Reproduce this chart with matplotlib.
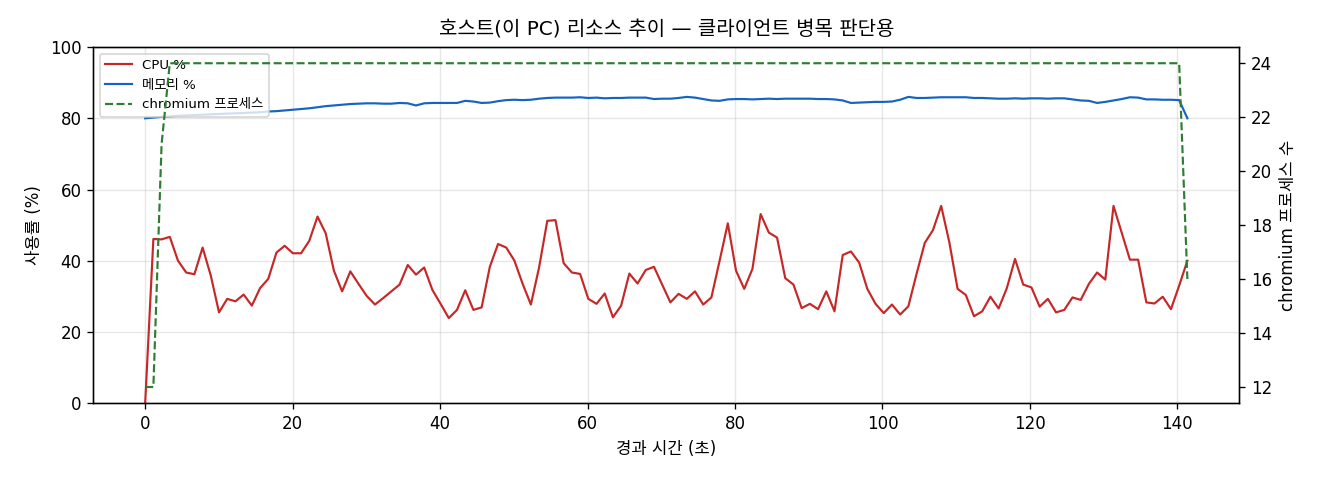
import numpy as np
import matplotlib
matplotlib.use('Agg')
import matplotlib.pyplot as plt

# Latin glyphs from DejaVu, Hangul falls through to Noto CJK KR
plt.rcParams['font.family'] = ['DejaVu Sans', 'Noto Sans CJK KR']
plt.rcParams['axes.unicode_minus'] = False

# sampling interval of the host monitor (s)
SAMPLE_SEC = 1.113

cpu = [0.0, 46.1, 46.0, 46.7, 40.0, 36.7, 36.2, 43.7, 35.8, 25.5,
       29.3, 28.6, 30.5, 27.4, 32.3, 34.9, 42.3, 44.2, 42.1, 42.1,
       45.6, 52.4, 47.7, 37.2, 31.4, 37.0, 33.5, 30.1, 27.7, 29.5,
       31.4, 33.3, 38.8, 36.1, 38.1, 31.8, 27.9, 23.9, 26.2, 31.7,
       26.2, 26.9, 38.3, 44.7, 43.7, 40.0, 33.5, 27.7, 38.1, 51.2,
       51.4, 39.3, 36.7, 36.3, 29.3, 27.9, 30.8, 24.1, 27.4, 36.4,
       33.6, 37.4, 38.3, 33.3, 28.3, 30.7, 29.3, 31.4, 27.7, 29.7,
       40.0, 50.5, 37.2, 32.1, 37.7, 53.1, 47.9, 46.5, 35.1, 33.3,
       26.7, 27.9, 26.4, 31.4, 25.8, 41.6, 42.6, 39.5, 32.1, 27.9,
       25.3, 27.7, 24.9, 27.2, 36.3, 45.0, 48.6, 55.4, 45.1, 32.1,
       30.4, 24.4, 25.8, 29.9, 26.6, 32.3, 40.5, 33.3, 32.5, 27.1,
       29.3, 25.5, 26.2, 29.7, 29.0, 33.5, 36.7, 34.7, 55.4, 47.9,
       40.3, 40.3, 28.3, 28.0, 29.9, 26.4, 33.0, 40.0]

mem = [80.0, 80.2, 80.4, 80.5, 80.7, 80.8, 80.9, 81.0, 81.1, 81.2,
       81.3, 81.4, 81.5, 81.6, 81.7, 81.9, 82.0, 82.2, 82.4, 82.6,
       82.8, 83.1, 83.4, 83.6, 83.8, 84.0, 84.1, 84.2, 84.2, 84.1,
       84.1, 84.3, 84.2, 83.6, 84.2, 84.3, 84.3, 84.3, 84.3, 84.9,
       84.7, 84.3, 84.4, 84.8, 85.1, 85.2, 85.1, 85.2, 85.5, 85.7,
       85.8, 85.8, 85.8, 85.9, 85.7, 85.8, 85.6, 85.7, 85.7, 85.8,
       85.8, 85.8, 85.4, 85.5, 85.5, 85.7, 86.0, 85.8, 85.4, 85.0,
       84.9, 85.3, 85.4, 85.4, 85.3, 85.4, 85.5, 85.4, 85.5, 85.5,
       85.5, 85.5, 85.4, 85.4, 85.3, 85.0, 84.3, 84.4, 84.5, 84.6,
       84.6, 84.7, 85.2, 86.0, 85.7, 85.7, 85.8, 85.9, 85.9, 85.9,
       85.9, 85.7, 85.7, 85.6, 85.5, 85.5, 85.6, 85.5, 85.6, 85.6,
       85.5, 85.6, 85.6, 85.3, 85.0, 84.9, 84.3, 84.6, 85.0, 85.4,
       85.9, 85.8, 85.3, 85.3, 85.2, 85.2, 85.1, 80.0]

chromium = [12, 12, 21] + [24] * 124 + [16]

t = np.arange(len(cpu)) * SAMPLE_SEC

fig, ax1 = plt.subplots(figsize=(11, 4), dpi=120)
fig.subplots_adjust(left=0.0705, right=0.939, top=0.902, bottom=0.16)

l1, = ax1.plot(t, cpu, color='#c62828', lw=1.3, label='CPU %')
l2, = ax1.plot(t, mem, color='#1565c0', lw=1.3, label='메모리 %')
ax1.set_ylim(0, 100)
ax1.set_xlabel('경과 시간 (초)')
ax1.set_ylabel('사용률 (%)')
ax1.grid(alpha=0.3)

ax2 = ax1.twinx()
l3, = ax2.plot(t, chromium, color='#2e7d32', lw=1.3, ls='--', label='chromium 프로세스')
ax2.set_ylabel('chromium 프로세스 수')

lines = [l1, l2, l3]
ax1.legend(lines, [l.get_label() for l in lines], loc='upper left', fontsize=8)
ax1.set_title('호스트(이 PC) 리소스 추이 — 클라이언트 병목 판단용', fontsize=12, pad=7)

fig.savefig('out.png', dpi=120)
